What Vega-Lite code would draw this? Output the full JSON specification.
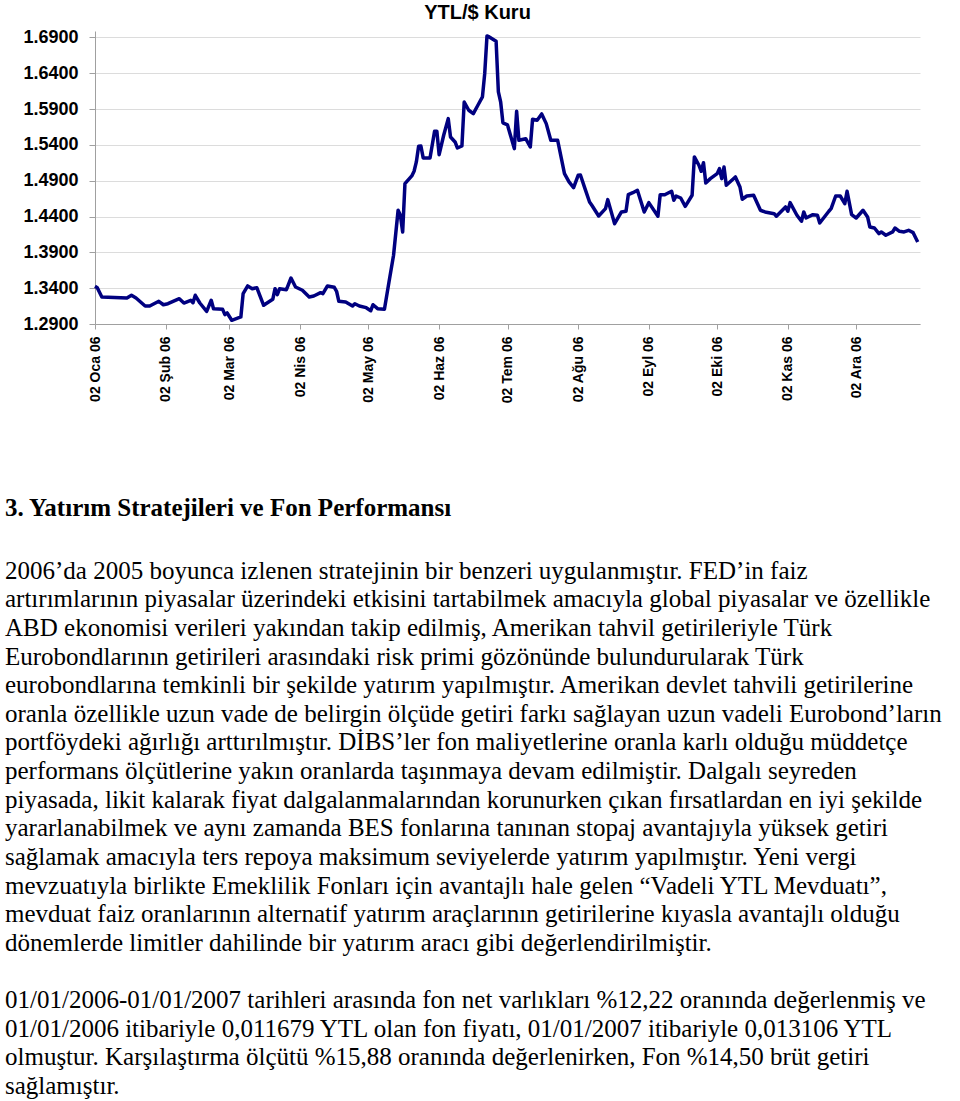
{
  "$schema": "https://vega.github.io/schema/vega-lite/v6.json",
  "background": "white",
  "padding": {"left": 5, "top": 3, "right": 5, "bottom": 0},
  "spacing": 93,
  "config": {"view": {"stroke": null}},
  "vconcat": [
    {
      "width": 825,
      "height": 293,
      "title": {"text": "YTL/$ Kuru", "font": "Liberation Sans", "fontSize": 20, "fontWeight": "bold", "color": "#000000", "anchor": "middle", "dx": -30, "offset": 5},
      "data": {"values": [
        {"date": "2006-01-02", "kur": 1.3426}, {"date": "2006-01-03", "kur": 1.3407}, {"date": "2006-01-05", "kur": 1.3277},
        {"date": "2006-01-16", "kur": 1.3263}, {"date": "2006-01-18", "kur": 1.3301}, {"date": "2006-01-20", "kur": 1.3263},
        {"date": "2006-01-24", "kur": 1.3151}, {"date": "2006-01-26", "kur": 1.3151}, {"date": "2006-01-30", "kur": 1.3217},
        {"date": "2006-02-01", "kur": 1.3169}, {"date": "2006-02-03", "kur": 1.3183}, {"date": "2006-02-08", "kur": 1.3253},
        {"date": "2006-02-10", "kur": 1.3193}, {"date": "2006-02-13", "kur": 1.3231}, {"date": "2006-02-14", "kur": 1.3197},
        {"date": "2006-02-15", "kur": 1.3301}, {"date": "2006-02-17", "kur": 1.3193}, {"date": "2006-02-20", "kur": 1.3077},
        {"date": "2006-02-22", "kur": 1.3231}, {"date": "2006-02-23", "kur": 1.3114}, {"date": "2006-02-27", "kur": 1.3105},
        {"date": "2006-02-28", "kur": 1.3030}, {"date": "2006-03-01", "kur": 1.3054}, {"date": "2006-03-03", "kur": 1.2952},
        {"date": "2006-03-07", "kur": 1.2998}, {"date": "2006-03-08", "kur": 1.3323}, {"date": "2006-03-10", "kur": 1.3431},
        {"date": "2006-03-12", "kur": 1.3393}, {"date": "2006-03-14", "kur": 1.3407}, {"date": "2006-03-17", "kur": 1.3161},
        {"date": "2006-03-21", "kur": 1.3245}, {"date": "2006-03-22", "kur": 1.3393}, {"date": "2006-03-23", "kur": 1.3309},
        {"date": "2006-03-24", "kur": 1.3393}, {"date": "2006-03-27", "kur": 1.3379}, {"date": "2006-03-29", "kur": 1.3542},
        {"date": "2006-03-31", "kur": 1.3417}, {"date": "2006-04-03", "kur": 1.3371}, {"date": "2006-04-06", "kur": 1.3277},
        {"date": "2006-04-08", "kur": 1.3291}, {"date": "2006-04-11", "kur": 1.3337}, {"date": "2006-04-12", "kur": 1.3323},
        {"date": "2006-04-14", "kur": 1.3431}, {"date": "2006-04-17", "kur": 1.3412}, {"date": "2006-04-18", "kur": 1.3357},
        {"date": "2006-04-19", "kur": 1.3217}, {"date": "2006-04-22", "kur": 1.3207}, {"date": "2006-04-25", "kur": 1.3151},
        {"date": "2006-04-26", "kur": 1.3183}, {"date": "2006-04-28", "kur": 1.3151}, {"date": "2006-05-01", "kur": 1.3128},
        {"date": "2006-05-03", "kur": 1.3086}, {"date": "2006-05-04", "kur": 1.3169}, {"date": "2006-05-06", "kur": 1.3114},
        {"date": "2006-05-09", "kur": 1.3105}, {"date": "2006-05-11", "kur": 1.3486}, {"date": "2006-05-13", "kur": 1.3859},
        {"date": "2006-05-15", "kur": 1.4488}, {"date": "2006-05-16", "kur": 1.4418}, {"date": "2006-05-17", "kur": 1.4185},
        {"date": "2006-05-18", "kur": 1.4859}, {"date": "2006-05-21", "kur": 1.4967}, {"date": "2006-05-22", "kur": 1.5032},
        {"date": "2006-05-23", "kur": 1.5162}, {"date": "2006-05-24", "kur": 1.5381}, {"date": "2006-05-25", "kur": 1.5385},
        {"date": "2006-05-26", "kur": 1.5218}, {"date": "2006-05-29", "kur": 1.5218}, {"date": "2006-05-31", "kur": 1.5591},
        {"date": "2006-06-01", "kur": 1.5591}, {"date": "2006-06-02", "kur": 1.5264}, {"date": "2006-06-04", "kur": 1.5535},
        {"date": "2006-06-06", "kur": 1.5767}, {"date": "2006-06-07", "kur": 1.5511}, {"date": "2006-06-09", "kur": 1.5441},
        {"date": "2006-06-10", "kur": 1.5357}, {"date": "2006-06-12", "kur": 1.5385}, {"date": "2006-06-13", "kur": 1.5999},
        {"date": "2006-06-15", "kur": 1.5884}, {"date": "2006-06-17", "kur": 1.5836}, {"date": "2006-06-19", "kur": 1.5954},
        {"date": "2006-06-21", "kur": 1.6070}, {"date": "2006-06-22", "kur": 1.6395}, {"date": "2006-06-23", "kur": 1.6921},
        {"date": "2006-06-24", "kur": 1.6907}, {"date": "2006-06-27", "kur": 1.6847}, {"date": "2006-06-28", "kur": 1.6139},
        {"date": "2006-06-29", "kur": 1.5999}, {"date": "2006-06-30", "kur": 1.5707}, {"date": "2006-07-02", "kur": 1.5679},
        {"date": "2006-07-05", "kur": 1.5348}, {"date": "2006-07-06", "kur": 1.5870}, {"date": "2006-07-07", "kur": 1.5465},
        {"date": "2006-07-10", "kur": 1.5487}, {"date": "2006-07-12", "kur": 1.5371}, {"date": "2006-07-13", "kur": 1.5758},
        {"date": "2006-07-15", "kur": 1.5744}, {"date": "2006-07-17", "kur": 1.5832}, {"date": "2006-07-19", "kur": 1.5697},
        {"date": "2006-07-21", "kur": 1.5465}, {"date": "2006-07-24", "kur": 1.5465}, {"date": "2006-07-27", "kur": 1.4999},
        {"date": "2006-07-29", "kur": 1.4883}, {"date": "2006-07-31", "kur": 1.4803}, {"date": "2006-08-02", "kur": 1.4976},
        {"date": "2006-08-03", "kur": 1.4980}, {"date": "2006-08-05", "kur": 1.4789}, {"date": "2006-08-07", "kur": 1.4603},
        {"date": "2006-08-08", "kur": 1.4557}, {"date": "2006-08-11", "kur": 1.4408}, {"date": "2006-08-14", "kur": 1.4510},
        {"date": "2006-08-15", "kur": 1.4636}, {"date": "2006-08-18", "kur": 1.4300}, {"date": "2006-08-21", "kur": 1.4464},
        {"date": "2006-08-23", "kur": 1.4474}, {"date": "2006-08-24", "kur": 1.4705}, {"date": "2006-08-26", "kur": 1.4733},
        {"date": "2006-08-28", "kur": 1.4767}, {"date": "2006-08-31", "kur": 1.4464}, {"date": "2006-09-02", "kur": 1.4594},
        {"date": "2006-09-06", "kur": 1.4404}, {"date": "2006-09-07", "kur": 1.4705}, {"date": "2006-09-09", "kur": 1.4705},
        {"date": "2006-09-12", "kur": 1.4753}, {"date": "2006-09-13", "kur": 1.4627}, {"date": "2006-09-14", "kur": 1.4687},
        {"date": "2006-09-16", "kur": 1.4659}, {"date": "2006-09-18", "kur": 1.4543}, {"date": "2006-09-21", "kur": 1.4697},
        {"date": "2006-09-22", "kur": 1.5232}, {"date": "2006-09-24", "kur": 1.5116}, {"date": "2006-09-25", "kur": 1.5032},
        {"date": "2006-09-26", "kur": 1.5152}, {"date": "2006-09-27", "kur": 1.4869}, {"date": "2006-09-29", "kur": 1.4929},
        {"date": "2006-10-02", "kur": 1.4999}, {"date": "2006-10-03", "kur": 1.5068}, {"date": "2006-10-04", "kur": 1.4929},
        {"date": "2006-10-05", "kur": 1.5092}, {"date": "2006-10-06", "kur": 1.4837}, {"date": "2006-10-10", "kur": 1.4953},
        {"date": "2006-10-12", "kur": 1.4813}, {"date": "2006-10-13", "kur": 1.4641}, {"date": "2006-10-15", "kur": 1.4687},
        {"date": "2006-10-18", "kur": 1.4697}, {"date": "2006-10-21", "kur": 1.4488}, {"date": "2006-10-23", "kur": 1.4464},
        {"date": "2006-10-27", "kur": 1.4440}, {"date": "2006-10-28", "kur": 1.4404}, {"date": "2006-11-01", "kur": 1.4534},
        {"date": "2006-11-02", "kur": 1.4474}, {"date": "2006-11-03", "kur": 1.4594}, {"date": "2006-11-06", "kur": 1.4418},
        {"date": "2006-11-08", "kur": 1.4334}, {"date": "2006-11-09", "kur": 1.4464}, {"date": "2006-11-10", "kur": 1.4380},
        {"date": "2006-11-13", "kur": 1.4426}, {"date": "2006-11-15", "kur": 1.4418}, {"date": "2006-11-16", "kur": 1.4310},
        {"date": "2006-11-20", "kur": 1.4474}, {"date": "2006-11-21", "kur": 1.4510}, {"date": "2006-11-23", "kur": 1.4687},
        {"date": "2006-11-25", "kur": 1.4687}, {"date": "2006-11-27", "kur": 1.4580}, {"date": "2006-11-28", "kur": 1.4753},
        {"date": "2006-11-30", "kur": 1.4426}, {"date": "2006-12-02", "kur": 1.4380}, {"date": "2006-12-05", "kur": 1.4488},
        {"date": "2006-12-07", "kur": 1.4394}, {"date": "2006-12-08", "kur": 1.4254}, {"date": "2006-12-10", "kur": 1.4240},
        {"date": "2006-12-12", "kur": 1.4161}, {"date": "2006-12-13", "kur": 1.4185}, {"date": "2006-12-15", "kur": 1.4139},
        {"date": "2006-12-18", "kur": 1.4185}, {"date": "2006-12-19", "kur": 1.4240}, {"date": "2006-12-21", "kur": 1.4194},
        {"date": "2006-12-23", "kur": 1.4185}, {"date": "2006-12-25", "kur": 1.4208}, {"date": "2006-12-27", "kur": 1.4175},
        {"date": "2006-12-29", "kur": 1.4045}
      ]},
      "mark": {"type": "line", "color": "#000080", "strokeWidth": 3.5, "strokeJoin": "round"},
      "encoding": {
        "x": {
          "field": "date", "type": "temporal",
          "scale": {"type": "utc", "domain": [{"year": 2006, "month": 1, "date": 2, "utc": true}, {"year": 2006, "month": 12, "date": 30, "utc": true}]},
          "axis": {
            "values": [
              {"year": 2006, "month": 1, "date": 2, "utc": true}, {"year": 2006, "month": 2, "date": 2, "utc": true},
              {"year": 2006, "month": 3, "date": 2, "utc": true}, {"year": 2006, "month": 4, "date": 2, "utc": true},
              {"year": 2006, "month": 5, "date": 2, "utc": true}, {"year": 2006, "month": 6, "date": 2, "utc": true},
              {"year": 2006, "month": 7, "date": 2, "utc": true}, {"year": 2006, "month": 8, "date": 2, "utc": true},
              {"year": 2006, "month": 9, "date": 2, "utc": true}, {"year": 2006, "month": 10, "date": 2, "utc": true},
              {"year": 2006, "month": 11, "date": 2, "utc": true}, {"year": 2006, "month": 12, "date": 2, "utc": true}
            ],
            "labelExpr": "utcFormat(datum.value, '%d') + ' ' + ['Oca','Şub','Mar','Nis','May','Haz','Tem','Ağu','Eyl','Eki','Kas','Ara'][utcmonth(datum.value)] + ' ' + utcFormat(datum.value, '%y')",
            "labelAngle": -90,
            "labelFont": "Liberation Sans", "labelFontSize": 14, "labelFontWeight": "bold", "labelColor": "#000000",
            "labelFlush": false, "labelOverlap": false, "labelPadding": 7,
            "grid": false, "domainColor": "#a0a0a0", "tickColor": "#a0a0a0", "tickSize": 5, "title": null
          }
        },
        "y": {
          "field": "kur", "type": "quantitative",
          "scale": {"domain": [1.29, 1.699], "zero": false, "nice": false},
          "axis": {
            "values": [1.29, 1.34, 1.39, 1.44, 1.49, 1.54, 1.59, 1.64, 1.69],
            "format": ".4f",
            "labelFont": "Liberation Sans", "labelFontSize": 18, "labelFontWeight": "bold", "labelColor": "#000000",
            "labelPadding": 11, "grid": true, "gridColor": "#dcdcdc", "domainColor": "#a0a0a0", "tickColor": "#a0a0a0", "tickSize": 6, "title": null
          }
        }
      }
    },
    {
      "width": 825,
      "height": 544,
      "title": {"text": "3. Yatırım Stratejileri ve Fon Performansı", "font": "Liberation Serif", "fontSize": 25, "fontWeight": "bold", "color": "#000000", "anchor": "start", "baseline": "alphabetic", "offset": 9},
      "data": {"values": [
        {"line": 1, "text": "2006’da 2005 boyunca izlenen stratejinin bir benzeri uygulanmıştır. FED’in faiz"},
        {"line": 2, "text": "artırımlarının piyasalar üzerindeki etkisini tartabilmek amacıyla global piyasalar ve özellikle"},
        {"line": 3, "text": "ABD ekonomisi verileri yakından takip edilmiş, Amerikan tahvil getirileriyle Türk"},
        {"line": 4, "text": "Eurobondlarının getirileri arasındaki risk primi gözönünde bulundurularak Türk"},
        {"line": 5, "text": "eurobondlarına temkinli bir şekilde yatırım yapılmıştır. Amerikan devlet tahvili getirilerine"},
        {"line": 6, "text": "oranla özellikle uzun vade de belirgin ölçüde getiri farkı sağlayan uzun vadeli Eurobond’ların"},
        {"line": 7, "text": "portföydeki ağırlığı arttırılmıştır. DİBS’ler fon maliyetlerine oranla karlı olduğu müddetçe"},
        {"line": 8, "text": "performans ölçütlerine yakın oranlarda taşınmaya devam edilmiştir. Dalgalı seyreden"},
        {"line": 9, "text": "piyasada, likit kalarak fiyat dalgalanmalarından korunurken çıkan fırsatlardan en iyi şekilde"},
        {"line": 10, "text": "yararlanabilmek ve aynı zamanda BES fonlarına tanınan stopaj avantajıyla yüksek getiri"},
        {"line": 11, "text": "sağlamak amacıyla ters repoya maksimum seviyelerde yatırım yapılmıştır. Yeni vergi"},
        {"line": 12, "text": "mevzuatıyla birlikte Emeklilik Fonları için avantajlı hale gelen “Vadeli YTL Mevduatı”,"},
        {"line": 13, "text": "mevduat faiz oranlarının alternatif yatırım araçlarının getirilerine kıyasla avantajlı olduğu"},
        {"line": 14, "text": "dönemlerde limitler dahilinde bir yatırım aracı gibi değerlendirilmiştir."},
        {"line": 16, "text": "01/01/2006-01/01/2007 tarihleri arasında fon net varlıkları %12,22 oranında değerlenmiş ve"},
        {"line": 17, "text": "01/01/2006 itibariyle 0,011679 YTL olan fon fiyatı, 01/01/2007 itibariyle 0,013106 YTL"},
        {"line": 18, "text": "olmuştur. Karşılaştırma ölçütü %15,88 oranında değerlenirken, Fon %14,50 brüt getiri"},
        {"line": 19, "text": "sağlamıştır."}
      ]},
      "mark": {"type": "text", "align": "left", "baseline": "alphabetic", "font": "Liberation Serif", "fontSize": 25, "color": "#000000", "dx": -90},
      "encoding": {
        "x": {"value": 0},
        "y": {"field": "line", "type": "quantitative", "scale": {"domain": [0, 19], "reverse": true, "nice": false, "zero": true}, "axis": null},
        "text": {"field": "text"}
      }
    }
  ]
}
